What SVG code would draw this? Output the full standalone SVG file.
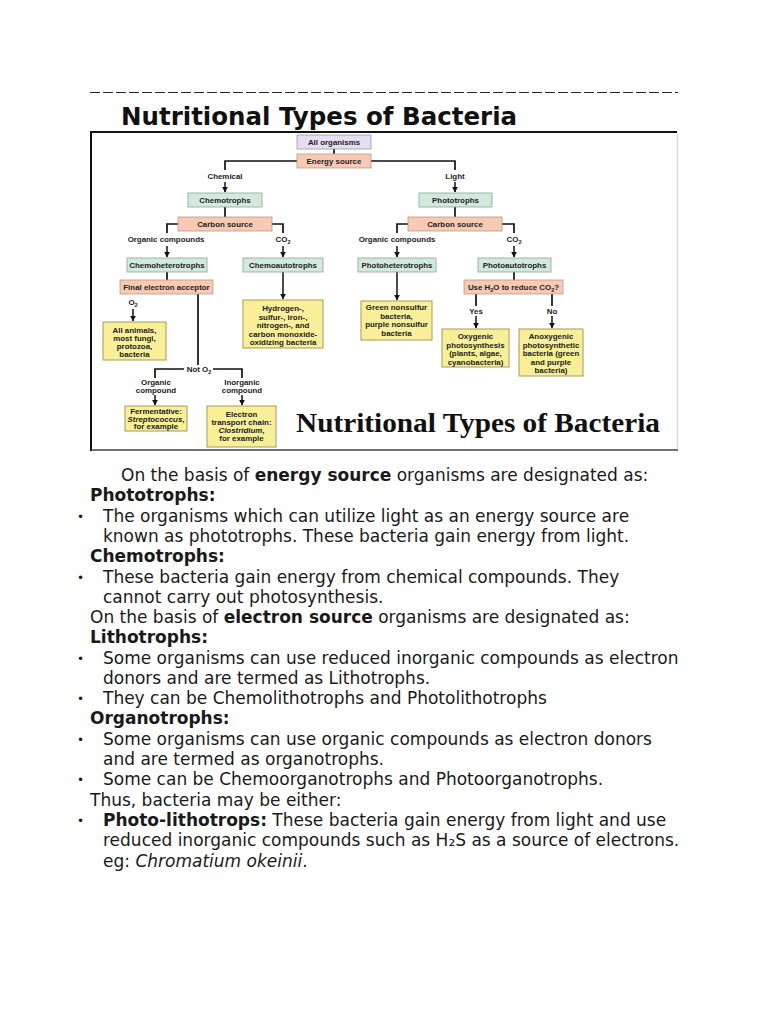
<svg xmlns="http://www.w3.org/2000/svg" width="768" height="1024" viewBox="0 0 768 1024">
<defs>
<marker id="ah" viewBox="0 0 10 10" refX="9" refY="5" markerWidth="4" markerHeight="4" orient="auto" markerUnits="strokeWidth">
<path d="M0,0 L10,5 L0,10 Z" fill="#111"/>
</marker>
<style>
.t{font-family:"DejaVu Sans",sans-serif;font-size:17px;fill:#1a1a1a}
.title{font-family:"DejaVu Sans",sans-serif;font-size:24.5px;font-weight:bold;fill:#111}
.b{font-weight:bold}
.i{font-style:italic}
.bul{font-family:"DejaVu Sans",sans-serif;font-size:12px;fill:#1a1a1a}
.d{font-family:"Liberation Sans",Arial,sans-serif;font-size:7.9px;font-weight:bold;fill:#222;text-anchor:middle}
.c{stroke:#111;stroke-width:1.7;fill:none}
.a{stroke:#111;stroke-width:1.5;fill:none;marker-end:url(#ah)}
.lav{fill:#e6def0;stroke:#9c96a8;stroke-width:0.8}
.sal{fill:#f8cab3;stroke:#b89a8a;stroke-width:0.8}
.grn{fill:#d2eadb;stroke:#8aa596;stroke-width:0.8}
.yel{fill:#f8ef98;stroke:#a89a55;stroke-width:1}
</style>
</defs>
<rect width="768" height="1024" fill="#ffffff"/>
<line x1="90" y1="92.5" x2="678" y2="92.5" stroke="#222" stroke-width="1.2" stroke-dasharray="10 3"/>
<text class="title" x="121" y="125">Nutritional Types of Bacteria</text>

<g id="frame">
<line x1="91" y1="131" x2="91" y2="451" stroke="#111" stroke-width="2"/>
<line x1="90" y1="132" x2="677" y2="132" stroke="#111" stroke-width="2"/>
<line x1="677.5" y1="133" x2="677.5" y2="450" stroke="#dcdcdc" stroke-width="1.5"/>
<line x1="91" y1="450" x2="678" y2="450" stroke="#444" stroke-width="1.5"/>
</g>

<g id="connectors">
<path class="c" d="M334,149 V154"/>
<path class="c" d="M297,161 H225 V170"/>
<path class="c" d="M371,161 H455 V170"/>
<path class="a" d="M225,182 V192"/>
<path class="a" d="M455,182 V192"/>
<path class="c" d="M225,207 V217"/>
<path class="c" d="M455,207 V217"/>
<path class="c" d="M178,224 H167 V233"/>
<path class="c" d="M272,224 H283 V233"/>
<path class="c" d="M408,224 H397 V233"/>
<path class="c" d="M502,224 H514 V233"/>
<path class="a" d="M167,246 V257"/>
<path class="a" d="M283,246 V257"/>
<path class="a" d="M397,246 V257"/>
<path class="a" d="M514,246 V257"/>
<path class="c" d="M167,272 V280"/>
<path class="c" d="M514,272 V280"/>
<path class="a" d="M283,272 V299"/>
<path class="a" d="M397,272 V300"/>
<path class="a" d="M133,309 V321"/>
<path class="c" d="M198,294 V365"/>
<path class="c" d="M184,369 H155 V378"/>
<path class="c" d="M213,369 H242 V378"/>
<path class="a" d="M155,395 V405"/>
<path class="a" d="M242,395 V405"/>
<path class="c" d="M476,294 V306"/>
<path class="c" d="M552,294 V306"/>
<path class="a" d="M476,316 V328"/>
<path class="a" d="M552,316 V328"/>
</g>

<g id="n-all"><rect class="lav" x="297" y="135" width="74" height="14"/><text class="d" x="334" y="145">All organisms</text></g>
<g id="n-energy"><rect class="sal" x="297" y="154" width="74" height="14"/><text class="d" x="334" y="164">Energy source</text></g>
<g id="l-chemical"><text class="d" x="225" y="179">Chemical</text></g>
<g id="l-light"><text class="d" x="455" y="179">Light</text></g>
<g id="n-chemotrophs"><rect class="grn" x="188" y="193" width="74" height="14"/><text class="d" x="225" y="203">Chemotrophs</text></g>
<g id="n-phototrophs"><rect class="grn" x="419" y="193" width="73" height="14"/><text class="d" x="455.5" y="203">Phototrophs</text></g>
<g id="n-carbon1"><rect class="sal" x="178" y="217" width="94" height="14"/><text class="d" x="225" y="227">Carbon source</text></g>
<g id="n-carbon2"><rect class="sal" x="408" y="217" width="94" height="14"/><text class="d" x="455" y="227">Carbon source</text></g>
<g id="l-org1"><text class="d" x="166" y="242">Organic compounds</text></g>
<g id="l-co2a"><text class="d" x="283" y="242">CO<tspan font-size="5.5" dy="2">2</tspan></text></g>
<g id="l-org2"><text class="d" x="397" y="242">Organic compounds</text></g>
<g id="l-co2b"><text class="d" x="514" y="242">CO<tspan font-size="5.5" dy="2">2</tspan></text></g>
<g id="n-chemohet"><rect class="grn" x="127" y="258" width="80" height="14"/><text class="d" x="167" y="268">Chemoheterotrophs</text></g>
<g id="n-chemoaut"><rect class="grn" x="243" y="258" width="80" height="14"/><text class="d" x="283" y="268">Chemoautotrophs</text></g>
<g id="n-photohet"><rect class="grn" x="358" y="258" width="78" height="14"/><text class="d" x="397" y="268">Photoheterotrophs</text></g>
<g id="n-photoaut"><rect class="grn" x="478" y="258" width="73" height="14"/><text class="d" x="514.5" y="268">Photoautotrophs</text></g>
<g id="n-final"><rect class="sal" x="120" y="280" width="93" height="14"/><text class="d" x="166.5" y="290">Final electron acceptor</text></g>
<g id="n-useh2o"><rect class="sal" x="464" y="280" width="99" height="14"/><text class="d" x="513.5" y="290">Use H<tspan font-size="5.5" dy="2">2</tspan><tspan dy="-2">O to reduce CO</tspan><tspan font-size="5.5" dy="2">2</tspan><tspan dy="-2">?</tspan></text></g>
<g id="l-o2"><text class="d" x="133" y="305">O<tspan font-size="5.5" dy="2">2</tspan></text></g>
<g id="n-animals"><rect class="yel" x="103" y="322" width="63" height="38"/>
<text class="d" x="134.5" y="333">All animals,</text><text class="d" x="134.5" y="341">most fungi,</text><text class="d" x="134.5" y="349">protozoa,</text><text class="d" x="134.5" y="357">bacteria</text></g>
<g id="n-hydrogen"><rect class="yel" x="243" y="300" width="80" height="48"/>
<text class="d" x="283" y="311">Hydrogen-,</text><text class="d" x="283" y="319.5">sulfur-, iron-,</text><text class="d" x="283" y="328">nitrogen-, and</text><text class="d" x="283" y="336.5">carbon monoxide-</text><text class="d" x="283" y="345">oxidizing bacteria</text></g>
<g id="n-green"><rect class="yel" x="361" y="301" width="71" height="39"/>
<text class="d" x="396.5" y="310">Green nonsulfur</text><text class="d" x="396.5" y="318.5">bacteria,</text><text class="d" x="396.5" y="327">purple nonsulfur</text><text class="d" x="396.5" y="335.5">bacteria</text></g>
<g id="l-yes"><text class="d" x="476" y="313.5">Yes</text></g>
<g id="l-no"><text class="d" x="552" y="313.5">No</text></g>
<g id="n-oxygenic"><rect class="yel" x="442" y="329" width="67" height="38"/>
<text class="d" x="475.5" y="339">Oxygenic</text><text class="d" x="475.5" y="347.5">photosynthesis</text><text class="d" x="475.5" y="356">(plants, algae,</text><text class="d" x="475.5" y="364.5">cyanobacteria)</text></g>
<g id="n-anoxygenic"><rect class="yel" x="519" y="329" width="64" height="47"/>
<text class="d" x="551" y="339">Anoxygenic</text><text class="d" x="551" y="347.5">photosynthetic</text><text class="d" x="551" y="356">bacteria (green</text><text class="d" x="551" y="364.5">and purple</text><text class="d" x="551" y="373">bacteria)</text></g>
<g id="l-noto2"><text class="d" x="199" y="372">Not O<tspan font-size="5.5" dy="2">2</tspan></text></g>
<g id="l-orgcomp"><text class="d" x="156" y="384.5">Organic</text><text class="d" x="156" y="393">compound</text></g>
<g id="l-inorgcomp"><text class="d" x="242" y="384.5">Inorganic</text><text class="d" x="242" y="393">compound</text></g>
<g id="n-ferment"><rect class="yel" x="125" y="406" width="62" height="25"/>
<text class="d" x="156" y="414">Fermentative:</text><text class="d" x="156" y="421.5"><tspan font-style="italic">Streptococcus</tspan>,</text><text class="d" x="156" y="429">for example</text></g>
<g id="n-electron"><rect class="yel" x="207" y="406" width="69" height="41"/>
<text class="d" x="241.5" y="416.5">Electron</text><text class="d" x="241.5" y="424.5">transport chain:</text><text class="d" x="241.5" y="432.5"><tspan font-style="italic">Clostridium</tspan>,</text><text class="d" x="241.5" y="440.5">for example</text></g>
<text x="296" y="432" font-family="'Liberation Serif',serif" font-weight="bold" font-size="27" textLength="364" lengthAdjust="spacingAndGlyphs" fill="#111">Nutritional Types of Bacteria</text>

<g id="body">
<text class="t" x="121" y="481">On the basis of <tspan class="b">energy source</tspan> organisms are designated as:</text>
<text class="t b" x="90" y="501">Phototrophs:</text>
<text class="bul" x="77" y="521">•</text>
<text class="t" x="103" y="522">The organisms which can utilize light as an energy source are</text>
<text class="t" x="103" y="542">known as phototrophs. These bacteria gain energy from light.</text>
<text class="t b" x="90" y="562">Chemotrophs:</text>
<text class="bul" x="77" y="582">•</text>
<text class="t" x="103" y="583">These bacteria gain energy from chemical compounds. They</text>
<text class="t" x="103" y="603">cannot carry out photosynthesis.</text>
<text class="t" x="90" y="623">On the basis of <tspan class="b">electron source</tspan> organisms are designated as:</text>
<text class="t b" x="90" y="643">Lithotrophs:</text>
<text class="bul" x="77" y="663">•</text>
<text class="t" x="103" y="664">Some organisms can use reduced inorganic compounds as electron</text>
<text class="t" x="103" y="684">donors and are termed as Lithotrophs.</text>
<text class="bul" x="77" y="703">•</text>
<text class="t" x="103" y="704">They can be Chemolithotrophs and Photolithotrophs</text>
<text class="t b" x="90" y="724">Organotrophs:</text>
<text class="bul" x="77" y="744">•</text>
<text class="t" x="103" y="745">Some organisms can use organic compounds as electron donors</text>
<text class="t" x="103" y="765">and are termed as organotrophs.</text>
<text class="bul" x="77" y="784">•</text>
<text class="t" x="103" y="785">Some can be Chemoorganotrophs and Photoorganotrophs.</text>
<text class="t" x="90" y="806">Thus, bacteria may be either:</text>
<text class="bul" x="77" y="825">•</text>
<text class="t" x="103" y="826"><tspan class="b">Photo-lithotrops:</tspan> These bacteria gain energy from light and use</text>
<text class="t" x="103" y="846">reduced inorganic compounds such as H₂S as a source of electrons.</text>
<text class="t" x="103" y="867">eg: <tspan class="i">Chromatium okeinii</tspan>.</text>
</g>
</svg>
